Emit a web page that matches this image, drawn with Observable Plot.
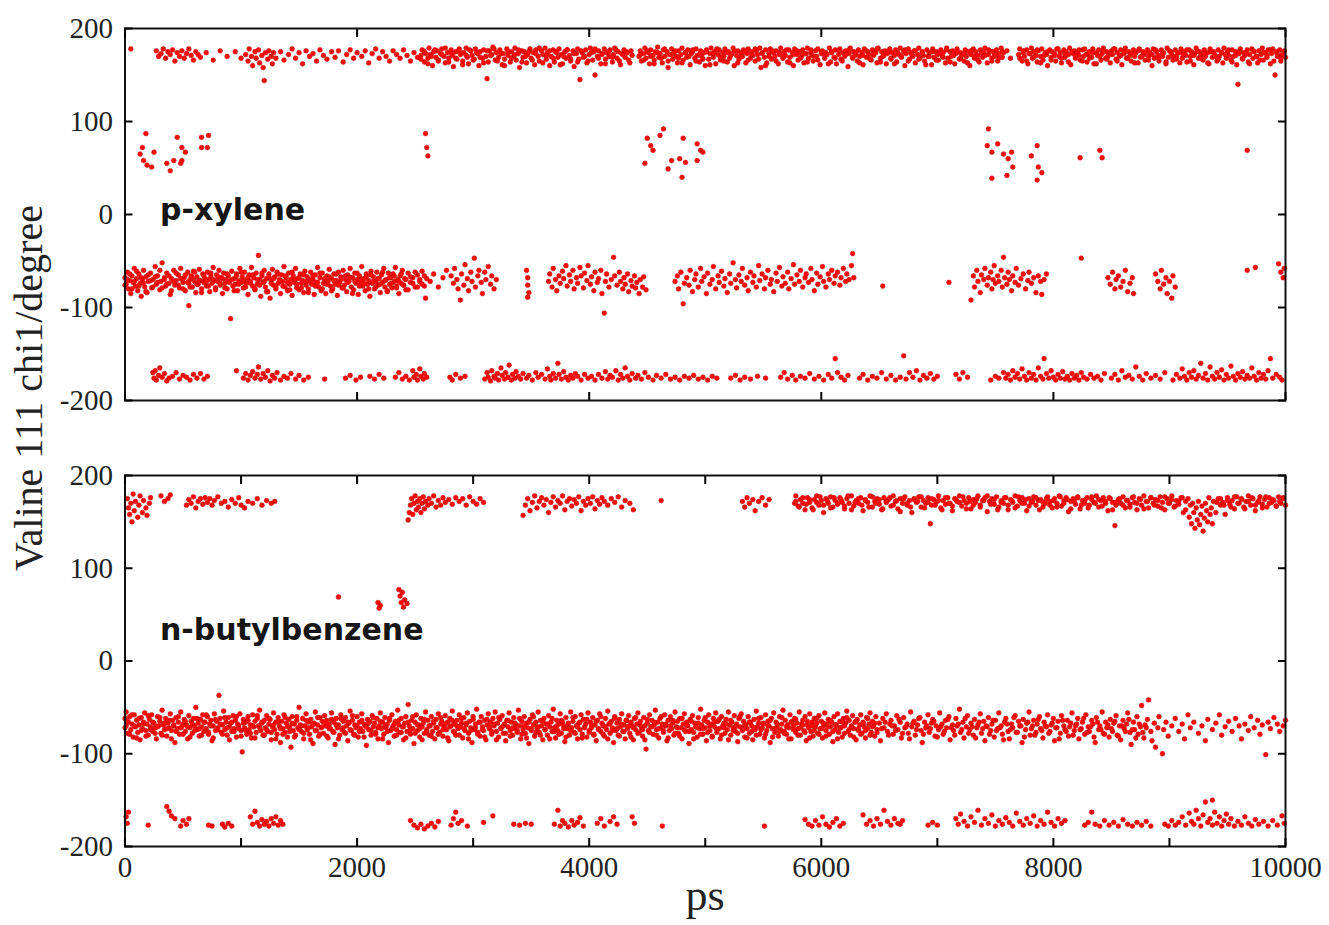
<!DOCTYPE html>
<html><head><meta charset="utf-8">
<script src="https://cdn.jsdelivr.net/npm/d3@7"></script>
<script src="https://cdn.jsdelivr.net/npm/@observablehq/plot@0.6"></script>
<style>
body{margin:0;background:#fff}
#wrap{position:relative;width:1329px;height:925px;overflow:hidden}
#top,#bot,#ann{position:absolute;left:0}
#top{top:0}#bot{top:420px}#ann{top:0}
</style></head><body>
<div id="wrap"><div id="top"></div><div id="bot"></div>
<svg id="ann" width="1329" height="925">
<text x="160" y="220" font-family="DejaVu Sans" font-weight="700" font-size="30" fill="#151515">p-xylene</text>
<text x="160" y="640" font-family="DejaVu Sans" font-weight="700" font-size="30" fill="#151515">n-butylbenzene</text>
<text x="705" y="910" text-anchor="middle" font-family="Liberation Serif" font-size="44" fill="#222">ps</text>
<text transform="translate(42,388) rotate(-90)" text-anchor="middle" font-family="Liberation Serif" font-size="40" fill="#222">Valine 111 chi1/degree</text>
</svg></div>
<script>
// Time values are stored in units of 10 ps; angles in degrees. Flat lists: t, angle, t, angle ...
const panelNames = ["p-xylene", "n-butylbenzene"];
const yTicks = [-200, -100, 0, 100, 200];
const xTicksTop = [0, 2000, 4000, 6000, 8000, 10000];
const xTicksBottom = [0, 1000, 2000, 3000, 4000, 5000, 6000, 7000, 8000, 9000, 10000];
const xLabels = [0, 2000, 4000, 6000, 8000, 10000];

// p-xylene, chi1 ~ +170
const pxA = [5,178,27,176,29,170,31,173,33,178,35,168,37,175,39,172,41,177,43,165,45,174,47,170,49,176,51,168,53,173,55,178,57,171,59,166,61,175,63,172,65,169,70,174,76,166,82,176,88,170,95,175,100,168,
104,172,106,165,107,178,109,170,110,160,112,175,113,168,115,177,116,163,118,171,119,158,120,144,121,174,123,167,124,176,126,170,127,162,128,174,130,168,
134,175,137,166,141,172,144,178,147,168,150,174,153,162,156,176,159,170,162,173,165,165,168,177,171,171,174,167,178,175,181,169,184,176,188,164,191,172,194,177,197,168,200,174,204,170,207,176,210,163,213,173,216,178,219,168,222,175,225,170,228,165,231,176,234,172,237,168,240,177,243,171,246,165,249,174,252,169,
255,171,256,177,258,164,259,173,261,168,262,179,263,172,265,160,266,175,268,169,269,176,270,166,272,173,273,178,275,170,276,163,278,174,279,168,281,177,282,171,283,159,285,175,286,167,288,178,289,172,291,165,292,174,294,179,295,169,296,162,298,176,299,171,301,167,302,178,304,173,305,160,306,175,308,168,309,177,311,170,312,146,313,164,314,176,316,172,317,180,319,166,320,174,322,169,323,177,325,161,326,173,327,167,329,178,330,171,332,164,333,175,335,170,336,179,337,166,339,173,340,158,342,176,343,169,344,175,346,163,347,172,349,178,350,168,352,174,353,161,354,177,356,170,357,165,359,176,360,172,362,179,363,167,364,174,366,160,367,170,369,177,370,164,371,175,373,169,374,178,376,172,377,162,379,175,380,168,381,177,383,171,384,165,386,176,387,159,389,173,390,178,391,167,392,145,394,174,395,169,397,177,398,163,400,172,401,179,403,166,404,175,405,150,407,170,408,176,410,162,411,173,413,178,414,167,415,174,417,170,418,177,420,164,421,172,422,179,424,168,425,175,427,161,428,173,430,177,431,169,433,174,434,166,436,176,437,171,
443,170,444,176,445,165,447,173,448,179,449,168,451,174,452,162,453,177,455,171,456,166,457,175,459,180,460,169,461,173,463,163,464,177,465,170,467,175,468,158,469,172,471,178,472,167,473,174,475,170,476,163,477,176,479,172,480,179,481,166,483,174,484,169,485,177,487,161,488,173,489,175,491,168,492,178,493,171,495,164,496,176,497,170,499,174,500,160,501,177,503,167,504,173,505,179,507,169,508,175,509,162,511,172,512,177,513,166,515,174,516,170,517,178,519,164,520,175,521,168,523,173,524,179,525,160,527,171,528,176,529,167,531,174,532,170,533,177,535,163,536,173,537,178,539,168,540,175,541,171,543,165,544,176,545,172,547,179,548,158,549,174,551,169,552,177,553,163,555,173,556,178,557,167,559,174,560,170,561,176,563,162,564,172,565,179,567,168,568,175,569,171,571,164,572,177,573,169,575,174,576,160,577,178,579,172,580,166,581,175,583,170,584,177,585,163,587,173,588,179,589,168,591,174,592,171,593,165,595,176,596,170,597,178,599,161,600,173,601,176,603,168,604,174,605,172,607,179,608,164,609,175,611,169,612,177,613,162,615,172,616,178,617,167,619,174,620,170,621,176,623,159,624,173,625,179,627,168,628,175,629,171,631,165,632,177,633,170,635,174,636,161,637,178,639,169,640,175,641,172,643,166,644,177,645,171,647,174,648,163,649,179,651,168,652,175,653,170,655,176,656,162,657,173,659,178,660,167,661,174,663,171,664,177,665,164,667,172,668,179,669,169,671,175,672,160,673,173,675,178,676,167,677,174,679,170,680,176,681,163,683,172,684,179,685,168,687,175,688,171,689,165,691,177,692,170,693,174,695,161,696,178,697,169,699,175,700,172,701,166,703,177,704,171,705,174,707,163,708,179,709,168,711,175,712,170,713,176,715,162,716,173,717,178,719,167,720,174,721,171,723,165,724,177,725,170,727,175,728,160,729,172,731,178,732,168,733,175,735,171,736,164,737,177,739,169,740,174,741,179,743,163,744,172,745,176,747,168,748,175,749,170,751,177,752,165,753,173,755,179,756,169,757,174,760,176,763,168,
770,172,771,178,773,165,774,174,775,170,777,177,778,162,779,173,781,179,782,168,783,175,785,171,786,164,787,176,789,170,790,178,791,166,793,174,794,172,795,160,797,177,798,169,799,175,801,171,802,165,803,178,805,170,806,174,807,163,809,177,810,169,811,175,813,172,814,179,815,161,817,173,818,176,819,168,821,174,822,171,823,166,825,177,826,170,827,178,829,164,830,173,831,175,833,169,834,178,835,162,837,174,838,171,839,177,841,166,842,173,843,179,845,168,846,175,847,170,849,163,850,176,851,172,853,178,854,167,855,174,857,170,858,177,859,161,861,173,862,179,863,168,865,175,866,171,867,165,869,177,870,170,871,174,873,163,874,178,875,169,877,175,878,172,879,166,881,177,882,170,883,174,885,160,886,178,887,168,889,175,890,171,891,165,893,177,894,170,895,174,897,162,898,179,899,169,901,175,902,172,903,166,905,177,906,170,907,174,909,163,910,178,911,168,913,175,914,171,915,164,917,177,918,170,919,175,921,161,922,173,923,179,925,168,926,175,927,171,929,166,930,177,931,170,933,174,934,162,935,178,937,169,938,175,939,172,941,165,942,177,943,170,945,174,946,163,947,179,949,168,950,175,951,171,953,166,954,177,955,170,957,175,958,161,959,140,960,173,961,178,963,167,964,174,965,171,967,177,968,164,969,172,971,178,972,168,973,175,975,170,976,163,977,176,979,172,980,179,981,166,983,174,984,169,985,177,987,162,988,173,989,178,991,150,992,175,993,170,995,177,996,165,997,172,999,176,1000,169];

// p-xylene, chi1 ~ +170, further points read in the densest stretches
const pxA2 = [255,167,258,175,261,162,264,170,267,177,270,165,273,172,276,179,279,164,282,173,285,168,288,176,291,161,294,171,297,177,300,166,303,174,306,169,309,163,312,176,315,171,318,178,321,165,324,173,327,160,330,175,333,168,336,172,339,177,342,164,345,170,348,175,351,166,354,173,357,179,360,163,363,171,366,176,369,168,372,174,375,161,378,170,381,177,384,167,387,173,390,164,393,176,396,170,399,165,402,174,405,178,408,168,411,172,414,162,417,175,420,169,423,177,426,165,429,172,432,175,435,163,
444,172,447,166,450,176,453,170,456,162,459,174,462,168,465,178,468,165,471,172,474,176,477,168,480,163,483,174,486,170,489,177,492,165,495,172,498,167,501,175,504,161,507,173,510,178,513,169,516,165,519,174,522,171,525,176,528,163,531,170,534,175,537,166,540,172,543,178,546,167,549,173,552,160,555,170,558,176,561,165,564,174,567,170,570,177,573,163,576,172,579,176,582,168,585,173,588,164,591,177,594,170,597,166,600,175,603,171,606,162,609,174,612,168,615,176,618,165,621,172,624,177,627,169,630,174,633,163,636,171,639,176,642,167,645,173,648,178,651,164,654,171,657,175,660,168,663,162,666,174,669,170,672,177,675,165,678,172,681,176,684,167,687,173,690,161,693,170,696,175,699,166,702,174,705,169,708,177,711,164,714,171,717,175,720,168,723,173,726,163,729,176,732,170,735,166,738,174,741,171,744,177,747,165,750,172,753,168,756,175,
771,168,774,176,777,165,780,173,783,169,786,177,789,163,792,171,795,175,798,166,801,173,804,178,807,168,810,172,813,164,816,175,819,170,822,177,825,165,828,172,831,168,834,174,837,162,840,170,843,176,846,167,849,173,852,178,855,165,858,171,861,175,864,168,867,173,870,163,873,176,876,170,879,174,882,166,885,172,888,177,891,168,894,173,897,164,900,176,903,170,906,167,909,174,912,172,915,177,918,165,921,171,924,176,927,168,930,173,933,163,936,175,939,170,942,167,945,174,948,172,951,177,954,164,957,171,960,175,963,168,966,173,969,162,972,176,975,170,978,166,981,174,984,171,987,177,990,165,993,172,996,168,999,175];

// p-xylene, chi1 ~ +60..90
const pxB = [18,87,15,72,13,65,16,58,19,53,23,51,25,67,36,55,39,47,45,83,49,72,49,58,48,55,52,67,42,58,66,83,66,72,72,85,71,72,
259,87,260,72,261,63,
450,82,453,74,455,69,461,85,464,92,448,55,468,49,471,58,478,60,480,40,481,82,483,56,493,76,496,69,498,67,493,58,
744,92,743,74,747,67,752,76,757,65,761,60,765,51,760,42,747,39,764,67,781,63,786,74,787,51,790,45,786,37,823,61,840,69,842,61,967,69];

// p-xylene, chi1 ~ -70
const pxC = [0,-68,1,-75,2,-62,3,-80,4,-71,5,-85,6,-66,7,-73,8,-58,9,-77,10,-69,11,-82,12,-64,13,-74,14,-88,15,-70,16,-60,17,-78,18,-67,19,-84,20,-72,22,-63,23,-79,24,-70,26,-56,27,-75,28,-66,30,-81,31,-72,32,-52,34,-68,35,-77,36,-63,38,-74,39,-86,40,-69,42,-60,43,-76,44,-71,46,-65,47,-79,48,-58,50,-73,51,-68,52,-82,54,-62,55,-74,55,-98,56,-70,57,-66,58,-78,59,-61,60,-72,61,-84,62,-67,63,-75,64,-59,65,-71,66,-80,67,-64,68,-73,69,-69,70,-77,71,-62,72,-70,73,-83,74,-66,75,-74,76,-57,77,-71,78,-79,79,-65,80,-72,81,-60,82,-76,83,-68,84,-85,85,-63,86,-74,87,-70,88,-80,89,-66,90,-72,91,-112,92,-61,93,-77,94,-69,95,-75,96,-64,97,-82,98,-71,99,-58,100,-73,101,-67,102,-79,103,-62,104,-74,105,-70,106,-86,107,-65,108,-72,109,-57,110,-77,111,-68,112,-81,113,-63,114,-75,115,-44,116,-70,117,-88,118,-66,119,-73,120,-60,121,-78,122,-69,123,-83,124,-64,125,-90,126,-71,127,-59,128,-76,129,-67,130,-80,131,-62,132,-74,133,-70,134,-85,135,-65,136,-72,137,-56,138,-78,139,-68,140,-82,141,-63,142,-75,143,-70,144,-87,145,-66,146,-73,147,-58,148,-79,149,-69,150,-81,151,-64,152,-74,153,-71,154,-84,155,-61,156,-76,157,-67,158,-80,159,-72,160,-62,161,-75,162,-70,163,-86,164,-65,165,-73,166,-57,167,-78,168,-68,169,-82,170,-63,171,-74,172,-70,173,-85,174,-66,175,-72,176,-59,177,-77,178,-69,179,-80,180,-64,181,-75,182,-71,183,-87,184,-62,185,-73,186,-67,187,-79,188,-60,189,-76,190,-70,191,-83,192,-65,193,-72,194,-58,195,-78,196,-68,197,-81,198,-63,199,-74,200,-70,201,-86,202,-66,203,-73,204,-56,205,-77,206,-69,207,-82,208,-64,209,-75,210,-71,211,-88,212,-61,213,-74,214,-67,215,-80,216,-72,217,-62,218,-76,219,-69,220,-84,221,-65,222,-73,223,-58,224,-78,225,-70,226,-82,227,-63,228,-75,229,-68,230,-79,231,-64,232,-72,233,-57,234,-77,235,-70,236,-85,237,-66,238,-74,239,-60,240,-76,241,-69,242,-81,244,-63,246,-73,248,-68,250,-78,252,-65,254,-72,256,-61,258,-77,259,-90,260,-69,
263,-72,266,-64,270,-78,274,-68,277,-60,281,-66,283,-74,284,-58,286,-70,287,-80,289,-92,290,-64,292,-76,293,-54,295,-69,296,-82,298,-62,299,-72,301,-47,302,-78,304,-66,305,-60,307,-73,308,-85,310,-62,311,-70,313,-56,315,-75,316,-66,318,-80,320,-70,
346,-60,347,-68,347,-76,348,-84,347,-89,
365,-72,366,-64,368,-78,369,-58,371,-70,372,-82,374,-66,375,-74,377,-61,378,-69,380,-55,381,-77,383,-65,384,-72,386,-60,387,-80,389,-68,390,-74,392,-57,393,-66,395,-79,396,-63,398,-71,399,-55,401,-75,402,-67,404,-82,405,-62,407,-73,408,-69,410,-60,411,-85,413,-106,414,-72,415,-64,417,-78,419,-70,421,-46,422,-66,424,-76,426,-62,427,-72,429,-80,430,-68,431,-75,433,-64,434,-83,436,-71,437,-77,439,-66,440,-79,441,-73,443,-85,444,-70,446,-78,447,-67,449,-81,
474,-72,476,-66,477,-80,479,-62,481,-96,482,-74,484,-68,486,-76,487,-60,489,-83,491,-70,492,-64,494,-78,496,-58,497,-72,499,-67,501,-85,502,-63,504,-75,506,-70,507,-56,509,-80,511,-66,512,-73,514,-61,516,-77,517,-69,519,-84,521,-64,522,-74,524,-52,526,-70,527,-79,529,-65,531,-72,532,-58,534,-76,536,-68,537,-82,539,-62,541,-73,542,-66,544,-78,546,-55,547,-71,549,-64,551,-80,552,-68,554,-60,556,-75,557,-70,559,-83,561,-63,562,-72,564,-57,566,-77,567,-67,569,-74,571,-62,572,-80,574,-69,576,-54,577,-75,579,-65,581,-72,582,-60,584,-78,586,-68,587,-64,589,-73,591,-58,592,-70,594,-82,596,-63,597,-75,599,-67,601,-56,602,-72,604,-78,606,-64,607,-70,609,-60,611,-74,612,-66,614,-62,616,-76,617,-68,619,-58,621,-72,622,-64,624,-70,626,-55,627,-42,628,-68,653,-77,
710,-73,729,-92,731,-66,732,-78,734,-60,735,-72,737,-84,738,-65,740,-70,741,-58,743,-76,744,-68,746,-62,747,-80,748,-70,749,-55,750,-74,752,-66,753,-72,755,-60,756,-78,757,-46,758,-68,760,-75,761,-62,762,-70,764,-82,765,-66,767,-73,768,-58,770,-76,772,-69,774,-64,776,-80,778,-71,779,-62,781,-74,783,-68,785,-84,787,-66,789,-72,790,-86,792,-70,794,-64,
824,-47,847,-68,849,-75,851,-62,853,-80,854,-70,856,-66,858,-78,860,-72,862,-60,864,-83,866,-74,868,-68,869,-85,
888,-64,890,-72,892,-80,893,-60,895,-75,897,-68,898,-85,900,-72,902,-90,903,-66,905,-78,967,-60,974,-57,994,-53,996,-62,998,-68,999,-58];

// p-xylene, chi1 ~ -70, further points in the first 2.6 ns
const pxC2 = [0,-76,2,-70,4,-64,6,-80,8,-72,10,-61,12,-77,14,-68,16,-74,18,-83,20,-65,22,-71,24,-78,26,-67,28,-73,30,-60,32,-79,34,-70,36,-75,38,-66,40,-82,42,-72,44,-63,46,-76,48,-69,50,-80,52,-65,54,-73,56,-78,58,-68,60,-62,62,-75,64,-71,66,-84,68,-66,70,-72,72,-77,74,-63,76,-70,78,-81,80,-67,82,-74,84,-69,86,-79,88,-64,90,-73,92,-70,94,-82,96,-66,98,-75,100,-62,102,-71,104,-78,106,-68,108,-74,110,-65,112,-80,114,-70,116,-76,118,-63,120,-72,122,-83,124,-67,126,-74,128,-69,130,-78,132,-64,134,-71,136,-77,138,-66,140,-73,142,-81,144,-62,146,-70,148,-75,150,-68,152,-79,154,-65,156,-72,158,-84,160,-70,162,-66,164,-77,166,-73,168,-63,170,-80,172,-69,174,-75,176,-67,178,-82,180,-71,182,-64,184,-76,186,-70,188,-79,190,-66,192,-73,194,-68,196,-85,198,-72,200,-63,202,-77,204,-70,206,-74,208,-67,210,-80,212,-65,214,-72,216,-78,218,-69,220,-75,222,-62,224,-71,226,-83,228,-68,230,-74,232,-66,234,-79,236,-72,238,-64,240,-76,242,-70,244,-81,246,-67,248,-74,250,-62,252,-78,254,-70,256,-75,258,-66];

// p-xylene, chi1 ~ -175
const pxD = [24,-170,25,-176,26,-168,27,-178,29,-173,30,-165,32,-175,34,-171,36,-179,38,-176,41,-174,44,-170,47,-177,50,-173,53,-175,56,-178,59,-172,62,-176,65,-171,68,-177,71,-174,96,-168,102,-176,104,-171,106,-178,108,-173,110,-169,112,-176,114,-172,115,-164,117,-177,119,-171,121,-175,123,-168,125,-179,127,-173,129,-176,131,-170,134,-178,137,-174,140,-176,143,-171,147,-177,150,-173,154,-178,158,-175,172,-177,190,-176,194,-173,199,-178,203,-175,211,-174,215,-177,219,-172,223,-176,233,-175,236,-170,239,-177,242,-174,245,-178,248,-168,249,-175,251,-172,252,-178,254,-166,255,-174,257,-177,258,-171,260,-175,
280,-175,282,-178,285,-172,289,-176,293,-174,310,-177,312,-170,313,-175,315,-179,316,-168,318,-174,319,-176,321,-171,322,-178,324,-165,325,-173,327,-177,328,-170,330,-175,331,-162,333,-178,334,-172,336,-176,337,-169,339,-174,341,-177,343,-171,346,-176,348,-173,351,-178,354,-170,356,-175,359,-172,362,-177,364,-166,366,-174,367,-178,369,-171,371,-176,373,-160,374,-172,376,-177,378,-169,380,-175,382,-178,384,-173,386,-176,388,-171,390,-174,393,-178,396,-172,399,-176,402,-174,405,-178,408,-172,411,-176,
414,-169,416,-177,418,-173,420,-175,423,-168,425,-178,427,-172,429,-176,431,-165,433,-174,435,-178,437,-171,440,-176,442,-173,445,-177,448,-170,451,-175,455,-178,458,-173,462,-176,466,-172,470,-177,474,-175,478,-178,482,-174,486,-176,490,-173,494,-177,498,-175,502,-178,506,-174,510,-176,
522,-176,526,-173,530,-178,534,-175,539,-177,545,-174,552,-176,565,-175,568,-170,571,-177,575,-173,578,-178,582,-174,586,-176,590,-171,594,-177,598,-174,602,-178,606,-172,609,-176,612,-155,614,-170,617,-175,620,-178,623,-173,633,-176,636,-172,640,-178,644,-174,648,-176,652,-170,656,-177,660,-173,664,-178,668,-175,
671,-152,673,-177,676,-170,679,-175,682,-168,685,-178,688,-173,691,-176,694,-171,697,-177,700,-174,716,-172,719,-177,722,-170,726,-175,746,-178,750,-174,753,-176,
757,-170,759,-176,761,-172,763,-178,765,-168,767,-175,769,-171,771,-177,773,-166,775,-174,777,-178,779,-170,781,-176,783,-172,785,-178,787,-165,789,-174,791,-177,792,-155,794,-171,796,-176,798,-168,800,-175,802,-178,804,-172,806,-176,808,-169,810,-177,812,-174,814,-178,816,-171,818,-176,820,-173,822,-178,824,-170,826,-175,829,-177,832,-172,835,-176,838,-174,841,-178,844,-171,
850,-176,853,-172,856,-178,859,-168,862,-175,865,-173,868,-177,871,-164,874,-174,877,-178,880,-171,884,-176,888,-173,892,-177,896,-170,
903,-178,906,-172,909,-176,911,-166,913,-174,915,-178,917,-170,919,-175,921,-168,923,-177,925,-173,927,-160,929,-176,931,-171,933,-178,935,-164,937,-174,939,-177,941,-170,943,-175,945,-167,947,-178,949,-172,951,-176,953,-163,955,-174,957,-178,959,-171,961,-175,963,-169,965,-177,967,-173,969,-176,971,-165,973,-174,975,-178,977,-170,979,-176,981,-172,983,-177,985,-168,987,-155,989,-176,992,-172,995,-175,997,-178];

// n-butylbenzene, chi1 ~ +170
const nbA = [2,175,3,165,4,158,5,170,6,150,7,180,8,162,9,172,11,155,12,168,13,178,15,160,16,173,18,165,19,157,21,170,22,176,31,178,34,172,37,175,39,179,
53,168,55,174,57,170,59,177,61,165,63,172,65,175,67,169,69,176,71,171,73,175,75,168,77,173,80,177,83,170,86,172,89,166,92,174,95,170,98,176,100,168,103,165,106,172,110,170,114,175,118,168,122,173,126,170,129,172,
244,152,245,160,246,168,247,175,248,158,249,170,250,178,251,163,252,172,253,166,254,175,255,160,256,170,257,177,258,164,259,172,261,168,262,175,264,170,266,178,268,166,270,173,272,168,274,176,276,171,279,174,282,169,285,176,288,172,291,175,294,168,297,177,300,172,303,169,306,175,309,171,
343,157,345,168,347,175,349,162,351,171,353,178,355,165,357,172,359,176,361,168,363,174,365,160,367,171,369,177,371,166,373,173,375,170,377,178,379,163,381,172,383,175,385,167,387,174,389,170,391,177,393,162,395,172,397,168,399,175,401,170,403,177,405,164,407,173,409,169,411,176,413,172,416,168,419,175,422,171,425,177,428,166,431,173,435,170,438,163,462,173,
532,172,534,166,536,176,538,170,541,174,543,162,546,172,549,176,552,168,555,174,
577,170,578,178,580,167,582,174,584,170,586,163,588,176,590,171,592,165,594,174,596,178,598,168,600,173,602,160,604,175,606,170,608,177,610,166,612,173,614,169,616,176,618,171,620,164,622,175,624,170,626,178,628,167,630,173,632,170,634,176,636,162,638,174,640,171,642,178,644,166,646,172,648,175,650,169,652,163,654,176,656,171,658,174,660,167,662,178,664,172,666,164,668,175,670,170,672,177,674,168,676,173,678,160,680,175,682,171,684,177,686,166,688,173,690,170,692,176,694,148,695,168,697,174,699,171,701,178,703,165,705,173,707,169,709,176,711,170,713,162,715,175,717,172,719,178,721,167,723,173,725,170,727,176,729,164,731,174,733,171,735,178,737,168,739,173,741,176,743,161,745,172,747,175,749,169,751,177,753,166,755,173,757,170,759,176,761,163,763,174,765,171,767,178,769,167,771,173,773,176,775,170,777,162,779,175,781,171,783,177,785,168,787,173,789,174,791,166,793,170,795,177,797,172,799,165,801,175,803,170,805,178,807,167,809,173,811,176,813,161,815,172,817,175,819,169,821,177,823,164,825,173,827,170,829,176,831,168,833,174,835,171,837,178,839,166,841,173,843,176,845,170,847,162,849,175,851,171,853,146,854,168,856,174,858,170,860,177,862,165,864,173,866,169,868,176,870,171,872,163,874,175,876,168,878,178,880,172,882,165,884,176,886,170,888,174,890,167,892,177,894,171,896,163,898,175,900,170,902,178,904,166,906,173,908,169,910,176,912,160,914,172,916,175,917,155,918,168,919,148,920,170,921,160,922,143,923,165,924,152,925,172,926,147,927,158,928,167,929,140,930,154,931,170,932,162,933,150,934,176,935,158,936,165,937,148,938,172,940,160,942,175,944,168,946,171,948,158,950,176,952,169,954,173,956,164,958,177,960,170,962,175,964,166,966,172,968,178,970,168,972,175,974,162,976,171,978,177,980,169,982,174,984,166,986,176,988,171,990,173,992,167,994,177,996,170,998,175,1000,168];

// n-butylbenzene, chi1 ~ +170, further points after 5.7 ns
const nbA2 = [578,172,581,166,584,176,587,169,590,174,593,163,596,171,599,177,602,168,605,173,608,165,611,176,614,170,617,174,620,167,623,178,626,163,629,171,632,175,635,168,638,173,641,166,644,177,647,170,650,174,653,164,656,172,659,176,662,168,665,173,668,161,671,175,674,170,677,166,680,174,683,172,686,177,689,165,692,171,695,175,698,168,701,173,704,163,707,176,710,170,713,167,716,174,719,171,722,177,725,164,728,172,731,168,734,175,737,166,740,173,743,178,746,169,749,174,752,163,755,171,758,176,761,168,764,173,767,165,770,177,773,170,776,174,779,167,782,172,785,176,788,163,791,171,794,175,797,168,800,173,803,166,806,177,809,170,812,174,815,164,818,172,821,176,824,168,827,173,830,165,833,177,836,170,839,174,842,167,845,172,848,176,851,163,854,171,857,175,860,168,863,173,866,166,869,177,872,170,875,174,878,164,881,172,884,176,887,168,890,173,893,165,896,177,899,170,902,174,905,167,908,172,911,176,914,163,941,171,944,175,947,168,950,173,953,166,956,177,959,170,962,174,965,164,968,172,971,176,974,168,977,173,980,165,983,177,986,170,989,174,992,167,995,172,998,176];

// n-butylbenzene, chi1 ~ +60..75
const nbB = [184,69,218,63,219,57,220,60,236,77,237,70,238,63,239,74,240,58,241,66,243,62];

// n-butylbenzene, chi1 ~ -65
const nbC = [0,-62,1,-70,1,-55,2,-78,3,-66,4,-60,5,-74,6,-68,7,-82,8,-58,9,-71,10,-64,11,-77,12,-69,13,-85,14,-61,15,-73,16,-66,17,-56,18,-75,19,-68,20,-80,21,-63,22,-71,23,-58,24,-76,25,-67,26,-72,27,-84,28,-60,29,-70,30,-65,31,-78,32,-53,33,-69,34,-74,35,-62,36,-81,37,-67,38,-72,39,-57,40,-75,41,-64,42,-70,43,-88,44,-61,45,-73,46,-66,47,-79,48,-55,49,-71,50,-68,51,-63,52,-76,53,-69,54,-84,55,-59,56,-72,57,-65,58,-78,59,-62,60,-70,61,-50,62,-74,63,-67,64,-81,65,-63,66,-71,67,-58,68,-76,69,-66,70,-73,71,-60,72,-79,73,-68,74,-64,75,-86,76,-70,77,-57,78,-75,79,-65,80,-72,81,-37,82,-62,83,-77,84,-69,85,-54,86,-74,87,-66,88,-80,89,-61,90,-71,91,-67,92,-76,93,-59,94,-73,95,-64,96,-82,97,-68,98,-70,99,-57,100,-75,101,-98,102,-63,103,-72,104,-66,105,-79,106,-60,107,-74,108,-69,109,-83,110,-58,111,-71,112,-65,113,-77,114,-62,115,-70,116,-53,117,-75,118,-67,119,-80,120,-64,121,-72,122,-59,123,-76,124,-68,125,-63,126,-85,127,-71,128,-56,129,-74,130,-66,131,-79,132,-61,133,-70,134,-88,135,-65,136,-73,137,-58,138,-77,139,-67,140,-82,141,-63,142,-71,143,-93,144,-60,145,-75,146,-68,147,-80,148,-64,149,-72,150,-50,151,-69,152,-76,153,-62,154,-84,155,-70,156,-57,157,-74,158,-66,159,-79,160,-63,161,-71,162,-89,163,-67,164,-55,165,-75,166,-69,167,-81,168,-61,169,-72,170,-65,171,-78,172,-59,173,-70,174,-64,175,-83,176,-68,177,-73,178,-56,179,-76,180,-66,181,-90,182,-62,183,-72,184,-69,185,-80,186,-58,187,-74,188,-65,189,-77,190,-61,191,-70,192,-86,193,-67,194,-54,195,-75,196,-64,197,-79,198,-69,199,-72,200,-60,201,-82,202,-66,203,-73,204,-57,205,-76,206,-68,207,-70,208,-91,209,-63,210,-74,211,-65,212,-80,213,-59,214,-71,215,-67,216,-77,217,-62,218,-84,219,-70,220,-56,221,-73,222,-66,223,-79,224,-61,225,-72,226,-68,227,-88,228,-64,229,-75,230,-58,231,-70,232,-81,233,-65,234,-74,235,-53,236,-69,237,-77,238,-62,239,-71,240,-85,241,-67,242,-60,243,-76,244,-47,245,-70,246,-79,247,-64,248,-73,249,-89,250,-66,251,-58,252,-75,253,-69,254,-82,255,-62,256,-71,257,-67,258,-78,259,-55,260,-74,261,-64,262,-80,263,-70,264,-60,265,-76,266,-67,267,-84,268,-63,269,-72,270,-57,271,-77,272,-68,273,-65,274,-81,275,-71,276,-59,277,-74,278,-66,279,-86,280,-62,281,-70,282,-54,283,-76,284,-68,285,-80,286,-64,287,-73,288,-58,289,-71,290,-67,291,-83,292,-61,293,-75,294,-69,295,-56,296,-78,297,-65,298,-72,299,-88,300,-63,301,-74,302,-68,303,-52,304,-77,305,-66,306,-81,307,-60,308,-71,309,-75,310,-64,311,-85,312,-69,313,-57,314,-73,315,-66,316,-79,317,-62,318,-70,319,-55,320,-76,321,-67,322,-82,323,-63,324,-72,325,-59,326,-78,327,-68,328,-86,329,-64,330,-71,331,-56,332,-75,333,-66,334,-80,335,-61,336,-73,337,-69,338,-77,339,-53,340,-70,341,-84,342,-65,343,-74,344,-60,345,-78,346,-67,347,-72,348,-89,349,-63,350,-75,351,-58,352,-69,353,-81,354,-66,355,-73,356,-55,357,-77,358,-64,359,-70,360,-85,361,-62,362,-74,363,-68,364,-80,365,-59,366,-71,367,-66,368,-76,369,-52,370,-72,371,-83,372,-64,373,-75,374,-68,375,-57,376,-78,377,-66,378,-70,379,-87,380,-61,381,-73,382,-69,383,-80,384,-55,385,-72,386,-65,387,-77,388,-60,389,-70,390,-84,391,-67,392,-74,393,-58,394,-79,395,-63,396,-71,397,-68,398,-82,399,-56,400,-75,401,-66,402,-72,403,-61,404,-79,405,-69,406,-86,407,-64,408,-73,409,-57,410,-76,411,-67,412,-70,413,-81,414,-62,415,-74,416,-54,417,-68,418,-78,419,-65,420,-72,421,-88,422,-60,423,-75,424,-67,425,-80,426,-63,427,-71,428,-57,429,-76,430,-69,431,-84,432,-64,433,-73,434,-59,435,-78,436,-66,437,-70,438,-85,439,-62,440,-74,441,-68,442,-56,443,-77,444,-65,445,-72,446,-81,447,-61,448,-70,449,-95,450,-67,451,-75,452,-58,453,-71,454,-64,455,-79,456,-69,457,-53,458,-74,459,-66,460,-83,461,-62,462,-72,463,-68,464,-77,465,-58,466,-70,467,-86,468,-64,469,-75,470,-60,471,-73,472,-67,473,-80,474,-55,475,-71,476,-65,477,-78,478,-62,479,-72,480,-84,481,-68,482,-57,483,-76,484,-66,485,-70,486,-89,487,-63,488,-74,489,-59,490,-77,491,-67,492,-71,493,-82,494,-61,495,-73,496,-52,497,-69,498,-79,499,-64,500,-72,501,-86,502,-66,503,-58,504,-75,505,-68,506,-81,507,-62,508,-71,509,-56,510,-77,511,-65,512,-73,513,-84,514,-60,515,-70,516,-67,517,-78,518,-63,519,-74,520,-55,521,-69,522,-80,523,-66,524,-72,525,-59,526,-76,527,-68,528,-87,529,-62,530,-71,531,-57,532,-75,533,-65,534,-82,535,-69,536,-73,537,-60,538,-78,539,-66,540,-70,541,-85,542,-63,543,-74,544,-54,545,-71,546,-67,547,-79,548,-61,549,-72,550,-68,551,-83,552,-58,553,-75,554,-65,555,-70,556,-88,557,-62,558,-73,559,-56,560,-77,561,-66,562,-71,563,-81,564,-60,565,-74,566,-68,567,-53,568,-76,569,-64,570,-79,571,-69,572,-72,573,-58,574,-84,575,-65,576,-70,577,-62,578,-77,579,-67,580,-73,581,-55,582,-80,583,-68,584,-64,585,-75,586,-60,587,-86,588,-69,589,-72,590,-57,591,-76,592,-66,593,-81,594,-62,595,-71,596,-67,597,-78,598,-59,599,-73,600,-65,601,-83,602,-70,603,-56,604,-75,605,-68,606,-63,607,-79,608,-71,609,-66,610,-87,611,-60,612,-74,613,-69,614,-57,615,-77,616,-65,617,-72,618,-82,619,-62,620,-70,621,-67,622,-54,623,-76,624,-64,625,-80,626,-71,627,-59,628,-73,629,-66,630,-85,631,-63,632,-75,633,-69,634,-58,635,-78,636,-66,637,-71,638,-83,639,-61,640,-73,641,-68,642,-56,643,-77,644,-65,645,-70,646,-81,647,-60,648,-74,650,-67,651,-86,653,-62,654,-72,656,-57,657,-76,659,-68,660,-64,662,-79,663,-70,665,-59,666,-74,668,-66,669,-83,671,-61,672,-72,674,-68,675,-78,677,-55,678,-71,680,-65,681,-80,683,-69,684,-62,686,-75,687,-88,689,-66,690,-72,692,-58,693,-77,695,-67,696,-63,698,-81,699,-70,701,-74,702,-56,704,-68,705,-79,707,-64,708,-72,710,-60,711,-85,713,-69,714,-75,716,-62,717,-70,719,-52,720,-77,722,-66,723,-83,725,-71,726,-59,728,-74,729,-67,731,-80,732,-63,734,-72,735,-69,737,-57,738,-78,740,-65,741,-86,743,-71,744,-61,746,-75,747,-68,749,-82,750,-64,752,-73,753,-56,755,-70,756,-79,758,-66,759,-62,761,-76,762,-84,764,-68,765,-72,767,-59,768,-77,770,-65,771,-70,773,-88,774,-63,776,-74,777,-67,779,-55,780,-80,782,-70,783,-64,785,-77,786,-68,788,-60,789,-73,791,-83,792,-66,794,-71,795,-58,797,-76,798,-69,800,-62,801,-86,803,-72,804,-65,806,-78,807,-59,809,-70,810,-74,812,-64,813,-81,815,-67,816,-56,818,-75,819,-70,821,-62,822,-84,824,-73,825,-66,827,-79,828,-58,830,-71,831,-76,833,-64,834,-68,836,-88,837,-61,839,-74,840,-70,842,-55,843,-78,845,-66,846,-72,848,-82,849,-63,851,-76,852,-67,854,-59,855,-80,857,-70,858,-85,860,-64,861,-73,863,-68,864,-56,866,-77,867,-90,869,-66,870,-74,872,-60,873,-79,875,-71,876,-48,878,-83,879,-69,881,-63,882,-42,884,-76,885,-86,887,-67,888,-93,890,-72,891,-60,894,-100,895,-74,897,-66,899,-81,902,-70,905,-62,908,-76,911,-68,913,-84,916,-58,918,-72,921,-66,925,-78,928,-70,931,-86,933,-63,937,-74,940,-67,943,-58,945,-80,948,-71,951,-65,954,-76,957,-62,960,-70,962,-84,965,-68,968,-75,970,-60,973,-72,976,-64,978,-79,980,-69,983,-101,985,-66,987,-73,990,-61,993,-68,995,-76,998,-70,1000,-64];

// n-butylbenzene, chi1 ~ -65, further points in the dense core
const nbC2 = [0,-72,2,-65,4,-79,6,-58,8,-70,10,-83,12,-62,14,-75,16,-68,18,-81,20,-59,22,-74,24,-66,26,-78,28,-71,30,-61,32,-80,34,-67,36,-73,38,-64,40,-84,42,-69,44,-76,46,-60,48,-72,50,-79,52,-65,54,-71,56,-82,58,-68,60,-75,62,-62,64,-73,66,-80,68,-66,70,-58,72,-77,74,-70,76,-83,78,-63,80,-74,82,-68,84,-79,86,-61,88,-72,90,-85,92,-66,94,-76,96,-60,98,-73,100,-81,102,-67,104,-75,106,-64,108,-78,110,-70,112,-83,114,-59,116,-72,118,-66,120,-80,122,-74,124,-62,126,-77,128,-69,130,-84,132,-65,134,-73,136,-79,138,-61,140,-71,142,-76,144,-67,146,-82,148,-60,150,-74,152,-70,154,-78,156,-64,158,-72,160,-85,162,-68,164,-75,166,-61,168,-79,170,-71,172,-66,174,-81,176,-73,178,-63,180,-77,182,-69,184,-84,186,-62,188,-72,190,-78,192,-66,194,-74,196,-59,198,-80,200,-70,202,-76,204,-64,206,-82,208,-71,210,-67,212,-75,214,-61,216,-79,218,-72,220,-65,222,-84,224,-70,226,-76,228,-62,230,-73,232,-68,234,-80,236,-64,238,-77,240,-71,242,-83,244,-66,246,-74,248,-60,250,-78,252,-69,254,-73,256,-85,258,-63,260,-76,262,-70,264,-81,266,-65,268,-72,270,-79,272,-61,274,-74,276,-68,278,-83,280,-71,282,-64,284,-77,286,-70,288,-80,290,-62,292,-73,294,-67,296,-84,298,-75,300,-60,302,-72,304,-79,306,-66,308,-74,310,-82,312,-63,314,-71,316,-76,318,-68,320,-85,322,-61,324,-73,326,-70,328,-78,330,-64,332,-81,334,-72,336,-67,338,-75,340,-62,342,-79,344,-70,346,-83,348,-66,350,-73,352,-60,354,-77,356,-71,358,-80,360,-65,362,-74,364,-68,366,-84,368,-62,370,-76,372,-70,374,-79,376,-64,378,-73,380,-82,382,-67,384,-75,386,-61,388,-78,390,-71,392,-66,394,-83,396,-72,398,-63,400,-77,402,-69,404,-80,406,-65,408,-74,410,-60,412,-79,414,-71,416,-84,418,-67,420,-75,422,-62,424,-73,426,-81,428,-68,430,-76,432,-64,434,-70,436,-82,438,-72,440,-61,442,-78,444,-69,446,-74,448,-85,450,-63,452,-77,454,-71,456,-66,458,-80,460,-73,462,-60,464,-75,466,-68,468,-83,470,-70,472,-64,474,-78,476,-72,478,-81,480,-62,482,-74,484,-69,486,-76,488,-65,490,-84,492,-71,494,-67,496,-79,498,-73,500,-61,502,-77,504,-70,506,-82,508,-66,510,-74,512,-63,514,-80,516,-72,518,-68,520,-85,522,-64,524,-75,526,-71,528,-78,530,-60,532,-73,534,-69,536,-83,538,-66,540,-76,542,-72,544,-80,546,-62,548,-74,550,-67,552,-79,554,-70,556,-64,558,-82,560,-73,562,-68,564,-76,566,-61,568,-78,570,-71,572,-84,574,-66,576,-74,578,-63,580,-80,582,-72,584,-69,586,-77,588,-65,590,-83,592,-70,594,-75,596,-62,598,-79,600,-73,602,-67,604,-81,606,-71,608,-64,610,-76,612,-69,614,-84,616,-72,618,-66,620,-78,622,-61,624,-74,626,-70,628,-82,630,-65,632,-73,634,-79,636,-68,638,-75,640,-62,642,-80,644,-71,646,-67,648,-77,652,-73,655,-66,658,-80,661,-70,664,-75,667,-63,670,-78,673,-71,676,-84,679,-67,682,-74,685,-61,688,-79,691,-70,694,-73,697,-65,700,-82,703,-71,706,-76,709,-63,712,-72,715,-80,718,-68,721,-74,724,-62,727,-78,730,-71,733,-83,736,-66,739,-73,742,-70,745,-79,748,-64,751,-75,754,-72,757,-85,760,-68,763,-74,766,-61,769,-77,772,-70,775,-82,778,-66,781,-73,784,-80,787,-63,790,-75,793,-70,796,-78,799,-67,802,-72,805,-84,808,-64,811,-76,814,-71,817,-80,820,-68,823,-74,826,-62,829,-77,832,-71,835,-82,838,-66,841,-74,844,-79,847,-69,850,-73,853,-65,856,-81,859,-70,862,-76,865,-63,868,-74,871,-83,874,-68,877,-77,880,-72];

// n-butylbenzene, chi1 ~ -175
const nbD = [1,-168,2,-175,3,-163,20,-177,36,-157,38,-162,40,-167,43,-170,48,-178,50,-172,53,-176,55,-170,72,-177,75,-178,84,-176,86,-179,89,-175,92,-178,108,-168,110,-176,112,-162,114,-174,116,-178,118,-171,120,-176,122,-173,124,-178,126,-170,128,-175,130,-168,132,-177,134,-172,136,-176,
246,-172,249,-177,252,-180,255,-176,258,-181,261,-178,264,-175,267,-179,270,-173,281,-177,283,-170,285,-163,287,-175,290,-172,295,-178,309,-174,317,-167,335,-176,340,-177,345,-175,350,-176,370,-176,373,-161,375,-178,377,-172,379,-175,382,-179,385,-172,387,-177,390,-174,392,-169,395,-178,407,-175,410,-170,413,-178,418,-173,421,-168,424,-176,437,-168,439,-175,463,-178,551,-178,
586,-171,589,-176,592,-178,595,-172,598,-177,601,-168,604,-176,607,-179,610,-174,613,-170,616,-178,619,-175,636,-166,639,-176,642,-172,645,-178,648,-170,651,-176,654,-161,657,-173,660,-177,663,-170,666,-175,668,-176,670,-172,692,-177,696,-174,700,-177,
716,-170,718,-176,720,-165,723,-173,726,-178,729,-168,732,-174,735,-161,738,-177,741,-170,744,-175,747,-166,750,-178,753,-172,756,-176,759,-169,762,-174,765,-178,768,-164,771,-173,774,-177,777,-170,780,-175,783,-167,786,-178,789,-172,792,-176,795,-163,798,-174,801,-178,804,-170,807,-175,810,-172,
827,-177,830,-174,833,-163,836,-176,840,-178,844,-172,848,-177,852,-174,856,-178,860,-171,864,-176,868,-178,872,-174,876,-177,880,-173,884,-178,
896,-176,899,-178,902,-172,905,-177,908,-174,911,-168,914,-177,917,-164,919,-173,921,-176,923,-161,925,-170,927,-178,929,-166,931,-152,933,-174,935,-170,937,-150,937,-177,939,-163,941,-175,943,-168,945,-178,947,-172,949,-165,951,-176,953,-170,956,-178,959,-173,962,-177,965,-168,968,-175,971,-178,974,-171,977,-176,981,-173,985,-178,989,-172,993,-177,997,-167,999,-175];

function points(flat) {
  const out = [];
  for (let i = 0; i < flat.length; i += 2) out.push({t: flat[i] * 10, a: flat[i + 1]});
  return out;
}
const pxData = [pxA, pxA2, pxB, pxC, pxC2, pxD].flatMap(points);
const nbData = [nbA, nbA2, nbB, nbC, nbC2, nbD].flatMap(points);

const blank = () => "";
function panel(data, xTicks, showLabels, marginTop, marginBottom, height) {
  const marks = [
    Plot.dot(data, {x: "t", y: "a", r: 2.4, fill: "#ff0a0a", stroke: "#c00000", strokeWidth: 0.5}),
    Plot.frame({stroke: "#111", strokeWidth: 2}),
    Plot.axisY(yTicks, {anchor: "left", tickSize: 8, dx: 8, tickFormat: blank, strokeWidth: 2, label: null}),
    Plot.axisY(yTicks, {anchor: "right", tickSize: 8, dx: -8, tickFormat: blank, strokeWidth: 2, label: null}),
    Plot.axisX(xTicks, {anchor: "top", tickSize: 8, dy: 8, tickFormat: blank, strokeWidth: 2, label: null}),
    Plot.axisX(xTicks, {anchor: "bottom", tickSize: 8, dy: -8, tickFormat: blank, strokeWidth: 2, label: null}),
    Plot.axisY(yTicks, {anchor: "left", tickSize: 0, tickPadding: 12, tickFormat: d => String(d), label: null, fill: "#222"})
  ];
  if (showLabels) marks.push(Plot.axisX(xLabels, {anchor: "bottom", tickSize: 0, tickPadding: 10, tickFormat: d => String(d), label: null, fill: "#222"}));
  return Plot.plot({
    width: 1329, height, marginLeft: 124.5, marginRight: 44, marginTop, marginBottom,
    x: {domain: [0, 10000]}, y: {domain: [-200, 200]},
    style: {fontFamily: "Liberation Serif", fontSize: "29px", background: "transparent", overflow: "visible"},
    marks
  });
}
document.getElementById("top").appendChild(panel(pxData, xTicksTop, false, 28, 20, 420));
document.getElementById("bot").appendChild(panel(nbData, xTicksBottom, true, 55, 79, 505));
</script></body></html>
